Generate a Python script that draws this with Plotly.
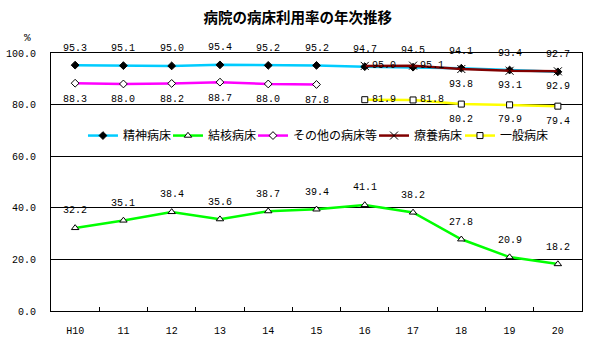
import plotly.graph_objects as go

years = ["H10", "11", "12", "13", "14", "15", "16", "17", "18", "19", "20"]
seishin = [95.3, 95.1, 95.0, 95.4, 95.2, 95.2, 94.7, 94.5, 94.1, 93.4, 92.7]
kekkaku = [32.2, 35.1, 38.4, 35.6, 38.7, 39.4, 41.1, 38.2, 27.8, 20.9, 18.2]
sonota = [88.3, 88.0, 88.2, 88.7, 88.0, 87.8, None, None, None, None, None]
ryoyo = [None, None, None, None, None, None, 95.0, 95.1, 93.8, 93.1, 92.9]
ippan = [None, None, None, None, None, None, 81.9, 81.8, 80.2, 79.9, 79.4]
names = ["精神病床", "結核病床", "その他の病床等", "療養病床", "一般病床"]
yticks = [0, 20, 40, 60, 80, 100]

NUMF = "Liberation Mono"
CJKF = "Noto Sans CJK JP"

styles = [
    dict(color="#00CCFF", symbol="diamond", mfill="black", size=6, label="above", lx=0.0602),
    dict(color="#00FF00", symbol="triangle-up", mfill="white", size=6.5, label="above", lx=0.2203),
    dict(color="#FF00FF", symbol="diamond", mfill="white", size=6, label="below", lx=0.3804),
    dict(color="#800000", symbol="x-thin", mfill="black", size=8, label="mixed", lx=0.6083),
    dict(color="#FFFF00", symbol="square", mfill="white", size=6, label="mixed", lx=0.7702),
]
series = [seishin, kekkaku, sonota, ryoyo, ippan]

fig = go.Figure()
annotations = []
legends = {}
for n, (name, vals, st) in enumerate(zip(names, series, styles)):
    lg = "legend" if n == 0 else f"legend{n + 1}"
    fig.add_trace(go.Scatter(
        x=list(range(len(years))), y=vals, name=name, mode="lines+markers",
        line=dict(color=st["color"], width=2.5),
        marker=dict(symbol=st["symbol"], size=st["size"], color=st["mfill"],
                    line=dict(color="black", width=1)),
        connectgaps=False, legend=lg,
    ))
    legends[lg] = dict(orientation="h", x=st["lx"], y=0.68, xanchor="left", yanchor="middle",
                       bgcolor="rgba(0,0,0,0)", borderwidth=0,
                       font=dict(family=CJKF, size=12, color="black"), itemwidth=30)
    k = 0
    for i, v in enumerate(vals):
        if v is None:
            continue
        if st["label"] == "above":
            xs, ys = 0, 17
        elif st["label"] == "below":
            xs, ys = 0, -16
        else:
            xs, ys = (19, 0) if k < 2 else (0, -15)
        k += 1
        annotations.append(dict(x=i, y=v, xref="x", yref="y", text=f"{v:.1f}",
                                showarrow=False, xshift=xs, yshift=ys,
                                font=dict(family=NUMF, size=10, color="black")))

annotations.append(dict(x=-0.045, y=1.058, xref="paper", yref="paper", text="%",
                        xanchor="center", yanchor="middle",
                        showarrow=False, font=dict(family=NUMF, size=11, color="black")))

fig.update_layout(
    width=592, height=339,
    margin=dict(l=51, r=10, t=53, b=28, autoexpand=False),
    paper_bgcolor="white", plot_bgcolor="white",
    title=dict(text="<b>病院の病床利用率の年次推移</b>", x=0.503, xanchor="center",
               y=0.947, yanchor="middle",
               font=dict(family=CJKF, size=14.5, color="black")),
    showlegend=True,
    annotations=annotations,
    **legends,
)
fig.update_xaxes(range=[-0.5, len(years) - 0.5], tickmode="array",
                 tickvals=list(range(len(years))), ticktext=years, tickangle=0,
                 showline=True, linecolor="black", linewidth=1, automargin=False,
                 mirror=True, ticks="", showgrid=False, ticklabelstandoff=10,
                 zeroline=False,
                 minor=dict(tickmode="array", tickvals=[i + 0.5 for i in range(len(years) - 1)],
                            ticks="inside", ticklen=4, tickcolor="black", showgrid=False),
                 tickfont=dict(family=NUMF, size=10, color="black"))
fig.update_yaxes(range=[0, 100], tickvals=yticks, ticktext=[f"{t:.1f}" for t in yticks],
                 showline=True, linecolor="black", linewidth=1, mirror=True, automargin=False,
                 showgrid=True, gridcolor="black", gridwidth=1, ticks="",
                 ticklabelstandoff=12, zeroline=False,
                 tickfont=dict(family=NUMF, size=10, color="black"))

fig.write_html("out.html")
